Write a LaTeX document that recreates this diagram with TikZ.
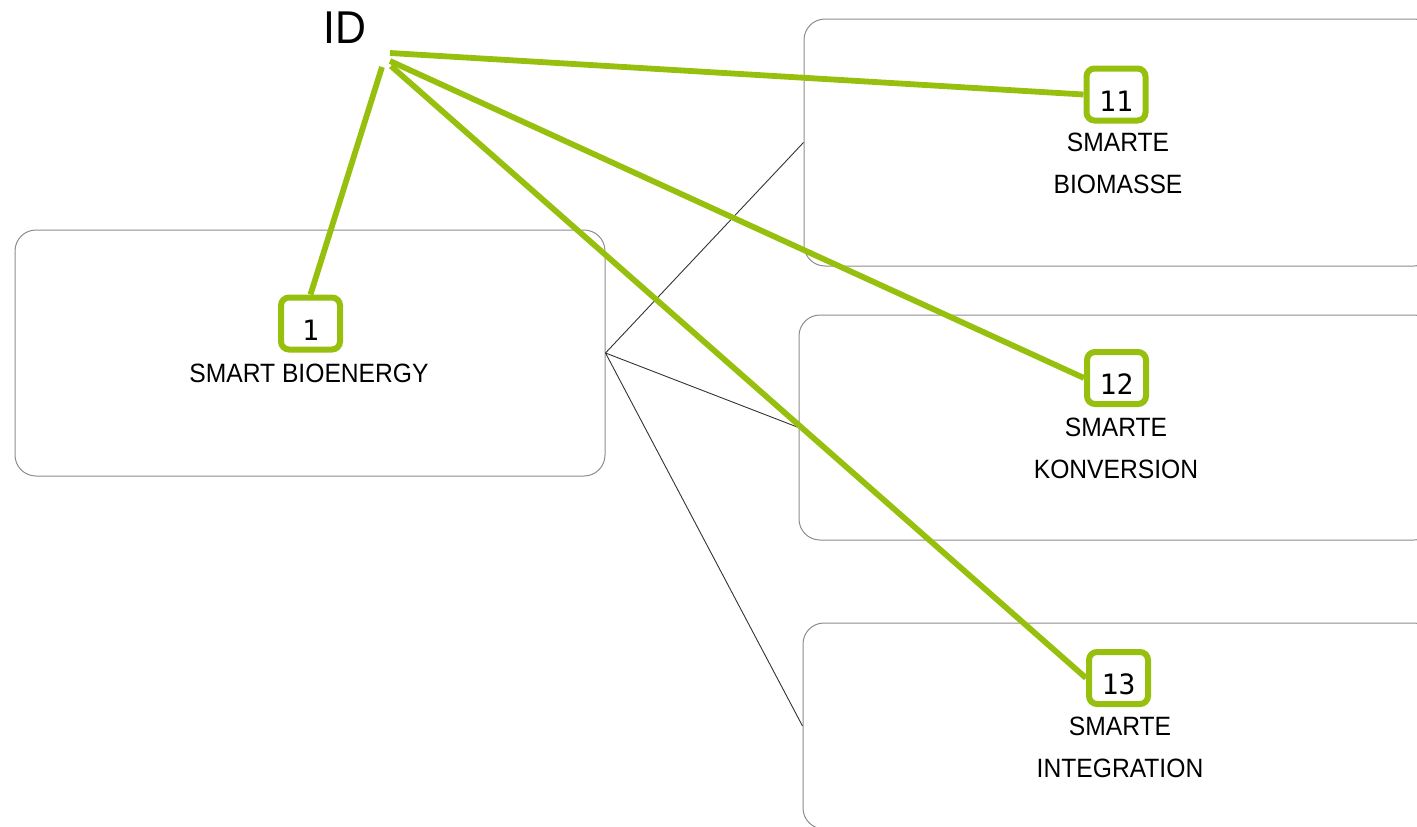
\documentclass[tikz,border=0pt]{standalone}
\usepackage{fontspec}
\newfontfamily\labelfont[FakeStretch=0.93]{Liberation Sans}
\newfontfamily\numfont{DejaVu Sans Mono}
\definecolor{leaf}{HTML}{97C00E}
\definecolor{rim}{HTML}{8C8C8C}

\begin{document}
\begin{tikzpicture}[x=1pt,y=-1pt,
  panel/.style={draw=rim, line width=1pt, rounded corners=21pt, inner sep=0pt, rectangle},
  badge/.style={draw=leaf, line width=6pt, rounded corners=8pt, minimum width=59pt,
    minimum height=52pt, inner sep=0pt, text height=33pt, text depth=0pt,
    font=\numfont\fontsize{28}{28}\selectfont},
  caption/.style={font=\labelfont\fontsize{26.5}{41.5}\selectfont, align=center,
    anchor=base, inner sep=0pt},
  link/.style={draw=black!80, line width=0.9pt},
  tag/.style={draw=leaf, line width=5.8pt}]

\useasboundingbox (0,0) rectangle (1417,827);
\clip (0,0) rectangle (1417,827);

% panels
\node[panel, minimum width=590pt, minimum height=246pt] (main) at (310,353) {};
\node[panel, minimum width=631pt, minimum height=247pt] (bio) at (1119.5,142.5) {};
\node[panel, minimum width=636pt, minimum height=225pt] (konv) at (1117,427.5) {};
\node[panel, minimum width=632pt, minimum height=206pt] (integ) at (1119,726) {};

% hierarchy links
\draw[link] (main.east) -- (bio.west);
\draw[link] (main.east) -- (konv.west);
\draw[link] (main.east) -- (integ.west);

% captions (base anchor sits on the last line)
\node[caption] (capmain) at (309,382) {SMART BIOENERGY};
\node[caption] (capbio) at (1118,193) {SMARTE\\BIOMASSE};
\node[caption] (capkonv) at (1116,478) {SMARTE\\KONVERSION};
\node[caption] (capinteg) at (1120,777) {SMARTE\\INTEGRATION};

% ID heading and its leader lines
\node[font=\labelfont\fontsize{46}{46}\selectfont, anchor=base, inner sep=0pt] (id) at (345,43) {ID};
\coordinate (s1) at (382,67);
\coordinate (s11) at (390,53);
\coordinate (s12) at (390,61);
\coordinate (s13) at (391,66);

\node[badge] (b1) at (310.5,323.5) {1};
\node[badge] (b11) at (1116,94.5) {11};
\node[badge] (b12) at (1116.5,378) {12};
\node[badge] (b13) at (1118.5,678) {13};

\draw[tag] (s1) -- (b1.north);
\draw[tag] (s11) -- (b11.west);
\draw[tag] (s12) -- (b12.west);
\draw[tag] (s13) -- (b13.west);
\end{tikzpicture}
\end{document}
